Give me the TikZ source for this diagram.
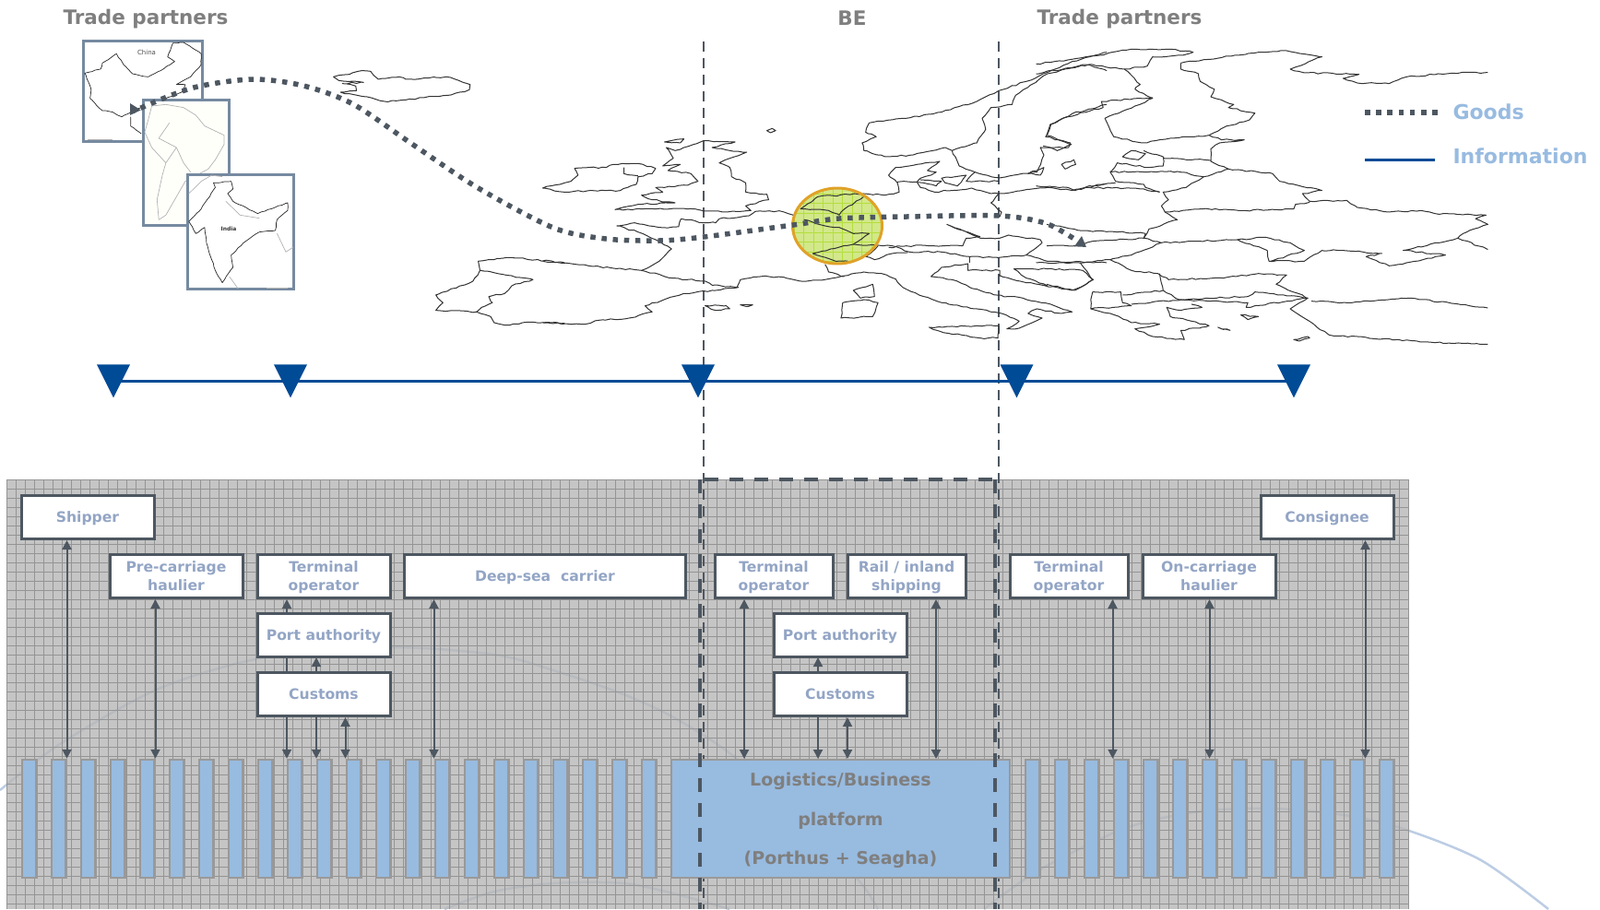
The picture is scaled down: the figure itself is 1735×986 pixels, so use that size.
\documentclass[tikz,border=0pt]{standalone}
\usepackage{fontspec}
\setmainfont{DejaVu Sans}
\usetikzlibrary{arrows.meta,shapes.geometric,decorations.pathmorphing}

\definecolor{slateLine}{HTML}{4D5761}
\definecolor{frameBlue}{HTML}{768AA0}
\definecolor{infoBlue}{HTML}{004B96}
\definecolor{paleBlue}{HTML}{98BBE0}
\definecolor{boxText}{HTML}{93A5C5}
\definecolor{headGrey}{HTML}{7F7F7F}
\definecolor{swoosh}{HTML}{BCCDE4}
\definecolor{spotFill}{HTML}{D2E88A}
\definecolor{spotGrid}{HTML}{B4DE3C}
\definecolor{spotEdge}{HTML}{E0A228}

\newcommand{\boxtext}[1]{\raisebox{-1.6pt}[\height][\depth]{\begin{tabular}{@{}c@{}}#1\end{tabular}}}

\tikzset{
    heading/.style={font=\fontsize{21.5}{24}\selectfont\bfseries, text=headGrey},
    legendtext/.style={font=\fontsize{22}{24}\selectfont\bfseries, text=paleBlue, anchor=west},
    partybox/.style={draw=slateLine, line width=3pt, fill=white, text=boxText,
        minimum height=47pt, inner sep=0pt, font=\fontsize{15.6}{20}\selectfont\bfseries},
    busbar/.style={draw=black!40, line width=2.5pt, fill=paleBlue, minimum width=15.5pt,
        minimum height=128pt, inner sep=0pt},
    flow/.style={draw=slateLine, line width=2pt, {Triangle[width=10pt,length=10pt]}-{Triangle[width=10pt,length=10pt]}},
    goods/.style={draw=slateLine, line width=5.5pt, dash pattern=on 5.5pt off 6.7pt},
    info/.style={draw=infoBlue, line width=3pt},
    border/.style={draw=slateLine, line width=2pt, dash pattern=on 11pt off 7pt},
    bigborder/.style={draw=slateLine, line width=4pt, dash pattern=on 15pt off 12pt},
    marker/.style={isosceles triangle, isosceles triangle apex angle=53, shape border rotate=-90,
        fill=infoBlue, minimum height=36pt, inner sep=0pt},
    mapline/.style={draw=black!80, line width=1pt, line join=round,
        decorate, decoration={random steps, segment length=5pt, amplitude=0.8pt}},
    insetline/.style={draw=black!85, line width=0.7pt, line join=round,
        decorate, decoration={random steps, segment length=4pt, amplitude=0.5pt}},
    faintline/.style={draw=black!30, line width=0.7pt, line join=round},
    % zoom frame used while tracing the map outlines
    traced/.style={x=0.3827pt, y=-0.3333pt},
}

\begin{document}
\begin{tikzpicture}[x=1pt,y=-1pt]
    \useasboundingbox (0,0) rectangle (1735,986);

    % background arcs
    \draw[swoosh, line width=2.5pt] plot[smooth] coordinates {(0,857) (65,807) (172,747) (287,713) (421,702) (536,710) (600,727) (676,753) (734,780) (799,823) (880,900) (933,957) (952,986)};
    \draw[swoosh, line width=2.5pt] plot[smooth] coordinates {(482,986) (536,967) (600,958) (676,958) (734,970) (791,986)};
    \draw[swoosh, line width=2.5pt] plot[smooth] coordinates {(1067,986) (1128,943) (1221,898) (1302,880) (1383,877) (1464,885) (1525,900) (1606,933) (1679,986)};

    % grey panel
    \fill[black!28, opacity=0.82] (7,520) rectangle (1528,986);
    \begin{scope}[shift={(7,520)}]
        \draw[black!42, line width=0.7pt, step=10pt] (0,0) grid (1521,466);
    \end{scope}

    % thin borders of BE
    \foreach \x in {763,1083} {
        \draw[border] (\x,45) -- (\x,986);
    }

    % China
    \node[draw=frameBlue, line width=3pt, fill=white, minimum width=129pt, minimum height=109pt, inner sep=0pt] (mapChina) at (155,98.5) {};
    \begin{scope}[traced]
        \draw[insetline] (240,238) -- (285,225) -- (290,205) -- (330,175) -- (350,210) -- (375,240) -- (420,250) -- (455,230) -- (495,200) -- (475,185) -- (490,140) -- (520,138) -- (570,175) -- (570,210) -- (540,250) -- (500,275) -- (525,275) -- (515,300) -- (470,320) -- (400,350) -- (345,380) -- (320,365) -- (290,360) -- (255,320) -- (258,290) -- cycle;
        \draw[insetline] (370,380) -- (370,410) -- (400,435);
        \draw[faintline] (248,453) -- (320,453);
    \end{scope}
    \node[font=\fontsize{7}{8}\selectfont, text=black!70] (labelChina) at (159,57) {China};

    % South America
    \node[draw=frameBlue, line width=3pt, fill=white!98!yellow, minimum width=93pt, minimum height=136pt, inner sep=0pt] (mapSouth) at (202,176.5) {};
    \begin{scope}[traced]
        \draw[faintline] (430,345) -- (470,340) -- (520,350) -- (555,375) -- (580,410) -- (635,440) -- (635,470) -- (610,520) -- (590,550) -- (525,590) -- (520,600) -- (490,660) -- (470,700) -- (450,715) -- (445,650) -- (460,570) -- (470,530) -- (430,480) -- (410,430) -- (420,390) -- cycle;
        \draw[faintline] (480,400) -- (450,450) -- (500,480) -- (520,530) -- (540,560);
        \draw[faintline] (470,530) -- (500,480);
    \end{scope}

    % India
    \node[draw=frameBlue, line width=3pt, fill=white, minimum width=115pt, minimum height=124pt, inner sep=0pt] (mapIndia) at (261,251.5) {};
    \begin{scope}[traced]
        \draw[insetline] (605,595) -- (655,590) -- (660,615) -- (645,630) -- (660,655) -- (730,695) -- (815,660) -- (815,685) -- (785,715) -- (780,750) -- (735,755) -- (690,790) -- (655,830) -- (660,870) -- (630,920) -- (610,880) -- (585,790) -- (580,740) -- (555,760) -- (535,720) -- (570,680) -- (610,610) -- cycle;
        \draw[faintline] (535,630) -- (570,590) -- (600,570) -- (630,575);
        \draw[faintline] (640,655) -- (680,700) -- (735,710);
        \draw[faintline] (785,760) -- (810,820) -- (830,805);
        \draw[faintline] (650,900) -- (675,940);
        \draw[faintline] (755,936) -- (815,936);
    \end{scope}
    \node[font=\fontsize{6}{7}\selectfont\bfseries, text=black!80] (labelIndia) at (248,248) {India};

    % yellow spot on the map, under the outlines
    \node[ellipse, fill=spotFill, minimum width=97pt, minimum height=82pt, inner sep=0pt] (spotBE) at (908,245) {};
    \begin{scope}
        \clip (908,245) ellipse [x radius=48.5, y radius=41];
        \draw[spotGrid, line width=0.8pt, step=10.5pt] (850,200) grid (970,290);
    \end{scope}

    % Europe, traced in three frames
    \begin{scope}[traced]
        % Iceland
        \draw[mapline] (945,250) -- (990,242) -- (1015,232) -- (1050,232) -- (1072,258) -- (1095,255) -- (1130,250) -- (1150,258) -- (1235,252) -- (1265,250) -- (1300,262) -- (1332,275) -- (1330,292) -- (1270,310) -- (1200,318) -- (1150,325) -- (1090,330) -- (1040,315) -- (990,305) -- (965,300) -- (1010,295) -- (1008,280) -- (970,272) -- (1030,268) -- (960,262) -- cycle;
        % Iberia, west part
        \draw[mapline] (1600,855) -- (1450,838) -- (1355,850) -- (1360,880) -- (1340,915) -- (1235,960) -- (1255,985) -- (1235,1010) -- (1350,1015) -- (1390,1030) -- (1400,1050) -- (1430,1058) -- (1510,1048) -- (1600,1052);
        \draw[mapline] (1360,880) -- (1510,910) -- (1450,930) -- (1430,955) -- (1385,965) -- (1395,985) -- (1365,1000) -- (1350,1015);
    \end{scope}
    \begin{scope}[shift={(600,0)},traced]
        % Ireland
        \draw[mapline] (-30,612) -- (50,590) -- (70,570) -- (60,548) -- (100,545) -- (150,545) -- (170,535) -- (240,532) -- (290,548) -- (280,565) -- (240,575) -- (235,600) -- (190,620) -- (110,620) -- (30,625) -- cycle;
        \draw[mapline] (200,545) -- (200,565) -- (240,572);
        % Britain
        \draw[mapline] (345,490) -- (425,458) -- (515,462) -- (450,480) -- (500,490) -- (548,495) -- (470,530) -- (500,545) -- (505,575) -- (545,595) -- (545,625) -- (605,632) -- (610,650) -- (545,670) -- (560,685) -- (480,690) -- (380,680) -- (290,680) -- (175,682) -- (240,665) -- (345,660) -- (280,650) -- (250,635) -- (310,625) -- (290,610) -- (380,603) -- (410,590) -- (390,565) -- (325,555) -- (360,535) -- (310,540) -- (340,515) -- (320,480) -- cycle;
        \draw[mapline] (315,462) -- (370,452) -- (360,465) -- cycle;
        \draw[mapline] (605,425) -- (620,418) -- (630,425) -- (615,432) -- cycle;
        % France and Spain
        \draw[mapline] (250,880) -- (300,850) -- (335,810) -- (290,780) -- (240,755) -- (180,735) -- (230,725) -- (300,740) -- (355,738) -- (362,712) -- (400,718) -- (425,725) -- (460,725) -- (470,712) -- (555,702) -- (572,688) -- (640,686) -- (680,700);
        \draw[mapline] (-30,850) -- (100,865) -- (250,880) -- (340,905) -- (430,915) -- (450,928) -- (520,935) -- (530,910) -- (600,898) -- (660,905) -- (700,915) -- (750,912) -- (820,898) -- (880,885) -- (930,890) -- (970,908) -- (990,935) -- (1050,965) -- (1120,990) -- (1200,1005) -- (1270,1020) -- (1320,1045) -- (1285,1070) -- (1320,1068) -- (1385,1035) -- (1345,1020) -- (1370,1005) -- (1440,1020) -- (1470,1015) -- (1420,995) -- (1330,970) -- (1250,960) -- (1180,935) -- (1130,910) -- (1070,900) -- (1100,870) -- (1175,858) -- (1175,880) -- (1265,880) -- (1265,900);
        \draw[mapline] (525,935) -- (450,945) -- (370,955) -- (260,995) -- (280,1015) -- (215,1035) -- (130,1042) -- (90,1055) -- (-30,1050);
        % Benelux and Germany lines
        \draw[mapline] (700,680) -- (750,640) -- (880,630) -- (940,635) -- (980,625) -- (975,595) -- (950,570) -- (970,545) -- (1030,535) -- (1095,525) -- (1060,555) -- (1085,560) -- (1070,570) -- (1040,580) -- (1030,592) -- (975,592);
        \draw[mapline] (700,680) -- (780,685) -- (810,700) -- (825,680) -- (880,640);
        \draw[mapline] (710,715) -- (770,735) -- (810,740) -- (850,760) -- (895,760) -- (850,795) -- (735,825) -- (800,850) -- (835,850);
        \draw[mapline] (850,795) -- (920,798) -- (960,800) -- (1010,820) -- (1100,820) -- (1180,835) -- (1262,838) -- (1340,830) -- (1385,790) -- (1380,780) -- (1290,765) -- (1265,775) -- (1210,775) -- (1115,730) -- (1210,770);
        \draw[mapline] (920,800) -- (885,835) -- (910,845) -- (960,825) -- (1005,822);
        \draw[mapline] (950,805) -- (1000,800) -- (1160,800) -- (1170,775) -- (1205,770);
        \draw[mapline] (770,860) -- (780,885) -- (825,900);
        % Denmark and the Baltic coast
        \draw[mapline] (1030,592) -- (1040,610) -- (1080,625) -- (1185,612) -- (1240,630) -- (1262,630) -- (1400,610) -- (1470,620) -- (1568,598);
        \draw[mapline] (1262,630) -- (1240,660) -- (1270,690) -- (1265,705);
        \draw[mapline] (1040,585) -- (1100,590) -- (1085,605) -- (1040,595) -- cycle;
        \draw[mapline] (1100,580) -- (1170,570) -- (1145,605) -- (1110,595) -- cycle;
        % Balkans, Adriatic side
        \draw[mapline] (1262,895) -- (1340,920) -- (1470,945) -- (1510,925) -- (1530,910) -- (1500,880) -- (1400,875) -- (1305,875) -- (1340,905) -- (1400,930);
        \draw[mapline] (1180,835) -- (1180,855);
        \draw[mapline] (1340,830) -- (1400,850) -- (1568,855);
        % islands
        \draw[mapline] (850,945) -- (905,925) -- (910,965) -- (870,970) -- cycle;
        \draw[mapline] (820,985) -- (880,975) -- (920,985) -- (905,1030) -- (815,1035) -- cycle;
        \draw[mapline] (430,995) -- (490,995) -- (500,1005) -- (460,1010) -- cycle;
        \draw[mapline] (530,992) -- (565,992) -- (545,997) -- cycle;
        \draw[mapline] (1065,1065) -- (1130,1062) -- (1200,1060) -- (1262,1060) -- (1260,1100) -- (1210,1100) -- (1100,1080) -- cycle;
        % Norway and Sweden
        \draw[mapline] (1195,560) -- (1150,540) -- (1130,490) -- (1110,480) -- (1010,505) -- (940,510) -- (880,490) -- (875,465) -- (915,445) -- (885,430) -- (895,400) -- (1000,385) -- (1100,365) -- (1200,330) -- (1262,295) -- (1340,265) -- (1410,230) -- (1470,200) -- (1568,170);
        \draw[mapline] (1130,490) -- (1200,465) -- (1225,420) -- (1215,385) -- (1240,350) -- (1300,340) -- (1310,310) -- (1400,240) -- (1510,210) -- (1568,230);
        \draw[mapline] (1568,340) -- (1470,370) -- (1410,405) -- (1395,445) -- (1465,465) -- (1460,480) -- (1380,480) -- (1390,505) -- (1370,560) -- (1255,578) -- (1195,560) -- (1170,590) -- (1262,590);
        \draw[mapline] (1440,535) -- (1475,520) -- (1480,535) -- (1450,550) -- cycle;
        \draw[mapline] (1345,565) -- (1390,545) -- (1380,570) -- cycle;
    \end{scope}
    \begin{scope}[shift={(1135,0)},traced]
        \draw[mapline] (-30,208) -- (60,195) -- (150,180) -- (240,160) -- (340,160) -- (415,170) -- (385,180) -- (300,185) -- (285,215) -- (220,225) -- (120,210) -- (-30,240);
        \draw[mapline] (220,225) -- (265,275) -- (250,290) -- (300,320) -- (250,345) -- (165,385) -- (190,445) -- (270,465) -- (350,450) -- (460,440) -- (510,410) -- (575,390) -- (590,368) -- (515,350) -- (530,340) -- (465,315) -- (475,290) -- (435,265) -- (430,240) -- (380,225) -- (380,205);
        \draw[mapline] (300,318) -- (155,330) -- (160,350) -- (60,380) -- (10,405) -- (0,440) -- (70,470) -- (30,490) -- (-10,475);
        \draw[mapline] (380,205) -- (600,170) -- (680,165) -- (780,185) -- (690,225) -- (730,237) -- (885,242) -- (840,255) -- (880,270) -- (970,272) -- (1020,250) -- (1150,238) -- (1250,236);
        \draw[mapline] (215,510) -- (240,490) -- (280,500) -- (260,520) -- cycle;
        % Baltic states and Ukraine
        \draw[mapline] (460,440) -- (495,455) -- (560,455) -- (490,465) -- (465,485) -- (465,525) -- (515,550) -- (640,565) -- (660,590) -- (780,620) -- (725,630) -- (745,655) -- (850,652) -- (880,675) -- (970,690) -- (1060,685) -- (1100,695) -- (1245,700) -- (1215,712) -- (1250,730) -- (1180,760) -- (1165,775) -- (1250,812);
        \draw[mapline] (1165,775) -- (1010,815) -- (1130,830) -- (1020,855) -- (970,865) -- (905,835) -- (950,825) -- (840,815) -- (780,815) -- (730,850) -- (630,850) -- (625,815) -- (540,780) -- (620,772) -- (690,790) -- (730,815) -- (635,850);
        \draw[mapline] (275,490) -- (330,510) -- (330,540) -- (290,545) -- (200,530) -- (180,560) -- (195,590) -- (275,600) -- (280,610) -- (320,625);
        \draw[mapline] (330,515) -- (465,522);
        \draw[mapline] (180,560) -- (370,558) -- (445,575) -- (515,550);
        \draw[mapline] (445,575) -- (395,610) -- (330,625) -- (345,650) -- (325,670) -- (335,690) -- (370,715) -- (290,745) -- (275,775) -- (325,790) -- (240,830) -- (180,845) -- (240,880) -- (315,890) -- (345,910) -- (500,905) -- (600,890) -- (680,895) -- (650,925) -- (740,970) -- (690,1005) -- (800,1090) -- (1100,1115) -- (1250,1120);
        \draw[mapline] (320,890) -- (330,945) -- (375,975) -- (570,965) -- (590,950) -- (740,970);
        \draw[mapline] (750,980) -- (850,985) -- (1030,970) -- (1250,1002);
        \draw[mapline] (335,690) -- (440,680) -- (560,685) -- (700,680) -- (705,665) -- (745,658);
        \draw[mapline] (325,790) -- (430,785) -- (540,780);
        \draw[mapline] (-30,605) -- (60,610) -- (80,620) -- (120,605) -- (195,595);
        \draw[mapline] (120,610) -- (275,615) -- (320,625);
        \draw[mapline] (0,730) -- (90,750) -- (200,755) -- (280,760) -- (275,775) -- (130,785) -- (80,800) -- (0,800);
        \draw[mapline] (-30,855) -- (90,855) -- (180,845);
        \draw[mapline] (95,855) -- (130,910) -- (80,945) -- (0,925);
        \draw[mapline] (130,950) -- (210,950) -- (215,985) -- (240,995) -- (125,1005) -- (125,975) -- (130,950);
        \draw[mapline] (215,960) -- (330,945);
        \draw[mapline] (125,1005) -- (180,1020) -- (240,1050) -- (320,1055) -- (250,1070) -- (300,1095) -- (390,1105) -- (380,1075) -- (440,1065) -- (460,1060) -- (410,1045) -- (350,1030) -- (340,1000) -- (380,1010) -- (440,1000) -- (410,990);
        \draw[mapline] (240,990) -- (380,975) -- (570,985) -- (565,1000) -- (740,970);
        \draw[mapline] (700,1105) -- (740,1095) -- (745,1100) -- (715,1110) -- cycle;
        \draw[mapline] (485,1065) -- (520,1075) -- (500,1072) -- cycle;
        \draw[mapline] (550,1025) -- (600,1030) -- (570,1040) -- cycle;
    \end{scope}
    \draw[draw=spotEdge, line width=3pt] (spotBE.center) ellipse [x radius=48.5, y radius=41];

    % goods route
    \draw[goods, {Triangle[width=13pt,length=11pt]}-{Triangle[width=13pt,length=11pt]}] plot[smooth] coordinates {(141,125) (153,117) (210,95) (274,86) (329,93) (383,113) (448,157) (517,203) (600,247) (657,259) (715,261) (763,257) (860,244) (910,237) (983,235) (1083,234) (1136,243) (1178,268)};

    % headings
    \node[heading] (headLeft) at (158,21) {Trade partners};
    \node[heading] (headBE) at (924,20) {BE};
    \node[heading] (headRight) at (1214,21) {Trade partners};

    % legend
    \node[legendtext] (legendGoods) at (1572,121) {Goods};
    \node[legendtext] (legendInfo) at (1572,169) {Information};
    \draw[goods] ([xshift=-92pt,yshift=-1pt]legendGoods.west) -- ([xshift=-13pt,yshift=-1pt]legendGoods.west);
    \draw[info] ([xshift=-92pt,yshift=-4pt]legendInfo.west) -- ([xshift=-16pt,yshift=-4pt]legendInfo.west);

    % information line with its markers
    \coordinate (infoStart) at (123,413);
    \coordinate (infoEnd) at (1403,413);
    \draw[info] (infoStart) -- (infoEnd);
    \foreach \name/\x in {A/123,B/315,C/757,D/1102.5,E/1403} {
        \node[marker] (tick\name) at (\x,406.5) {};
    }

    % bars and platform
    \foreach \i in {0,...,21} {
        \node[busbar] (barL\i) at ({31.5+32*\i},888) {};
    }
    \foreach \i in {0,...,12} {
        \node[busbar] (barR\i) at ({1119.5+32*\i},888) {};
    }
    \node[busbar, minimum width=367pt, text=headGrey, font=\fontsize{19}{42.5}\selectfont\bfseries] (platform) at (911.5,888) {\raisebox{1.2pt}[\height][\depth]{\begin{tabular}{@{}c@{}}Logistics/Business\\platform\\(Porthus + Seagha)\end{tabular}}};

    % taps on the platform
    \foreach \name/\x in {tapA/807,tapB/887,tapC/919,tapD/1015} {
        \coordinate (\name) at (\x,823);
    }

    % arrows first, the boxes lie over them
    \coordinate (terminalLeftTop) at (311,650);
    \draw[flow] (terminalLeftTop) -- (terminalLeftTop |- barL9.north);
    \coordinate (portLeftLow) at (343,713);
    \draw[flow] (portLeftLow) -- (portLeftLow |- barL10.north);
    \coordinate (tapPortB) at (887,713);
    \draw[flow] (tapPortB) -- (tapB);

    % boxes
    \node[partybox, minimum width=144pt] (shipper) at (95,561) {\boxtext{Shipper}};
    \node[partybox, minimum width=144pt] (preCarriage) at (191,625) {\boxtext{Pre-carriage\\haulier}};
    \node[partybox, minimum width=144pt] (terminalLeft) at (351,625) {\boxtext{Terminal\\operator}};
    \node[partybox, minimum width=305pt] (deepSea) at (591,625) {\boxtext{Deep-sea\ \ carrier}};
    \node[partybox, minimum width=144pt] (portLeft) at (351,689) {\boxtext{Port authority}};
    \node[partybox, minimum width=144pt] (customsLeft) at (351,753) {\boxtext{Customs}};
    \node[partybox, minimum width=128pt] (terminalMid) at (839,625) {\boxtext{Terminal\\operator}};
    \node[partybox, minimum width=128pt] (railShip) at (983,625) {\boxtext{Rail / inland\\shipping}};
    \node[partybox, minimum width=144pt] (portMid) at (911,689) {\boxtext{Port authority}};
    \node[partybox, minimum width=144pt] (customsMid) at (911,753) {\boxtext{Customs}};
    \node[partybox, minimum width=128pt] (terminalRight) at (1159,625) {\boxtext{Terminal\\operator}};
    \node[partybox, minimum width=144pt] (onCarriage) at (1311,625) {\boxtext{On-carriage\\haulier}};
    \node[partybox, minimum width=144pt] (consignee) at (1439,561) {\boxtext{Consignee}};

    % the other arrows, box to bar
    \draw[flow] (shipper.south -| barL1.east) -- (barL1.north east);
    \draw[flow] (preCarriage.south -| barL4.east) -- (barL4.north east);
    \draw[flow] (customsLeft.south -| barL11.west) -- (barL11.north west);
    \draw[flow] (deepSea.south -| barL14.west) -- (barL14.north west);
    \draw[flow] (terminalMid.south -| tapA) -- (tapA);
    \draw[flow] (customsMid.south -| tapC) -- (tapC);
    \draw[flow] (railShip.south -| tapD) -- (tapD);
    \draw[flow] (terminalRight.south -| barR3.west) -- (barR3.north west);
    \draw[flow] (onCarriage.south -| barR6.center) -- (barR6.north);
    \draw[flow] (consignee.south -| barR11.east) -- (barR11.north east);

    % heavy dashed frame of BE
    \coordinate (frameLeftTop) at (759,520);
    \coordinate (frameRightTop) at (1079,520);
    \draw[bigborder] (frameLeftTop) -- (759,986);
    \draw[bigborder] (frameRightTop) -- (1079,986);
    \draw[bigborder] (764,520) -- (frameRightTop);
\end{tikzpicture}
\end{document}
